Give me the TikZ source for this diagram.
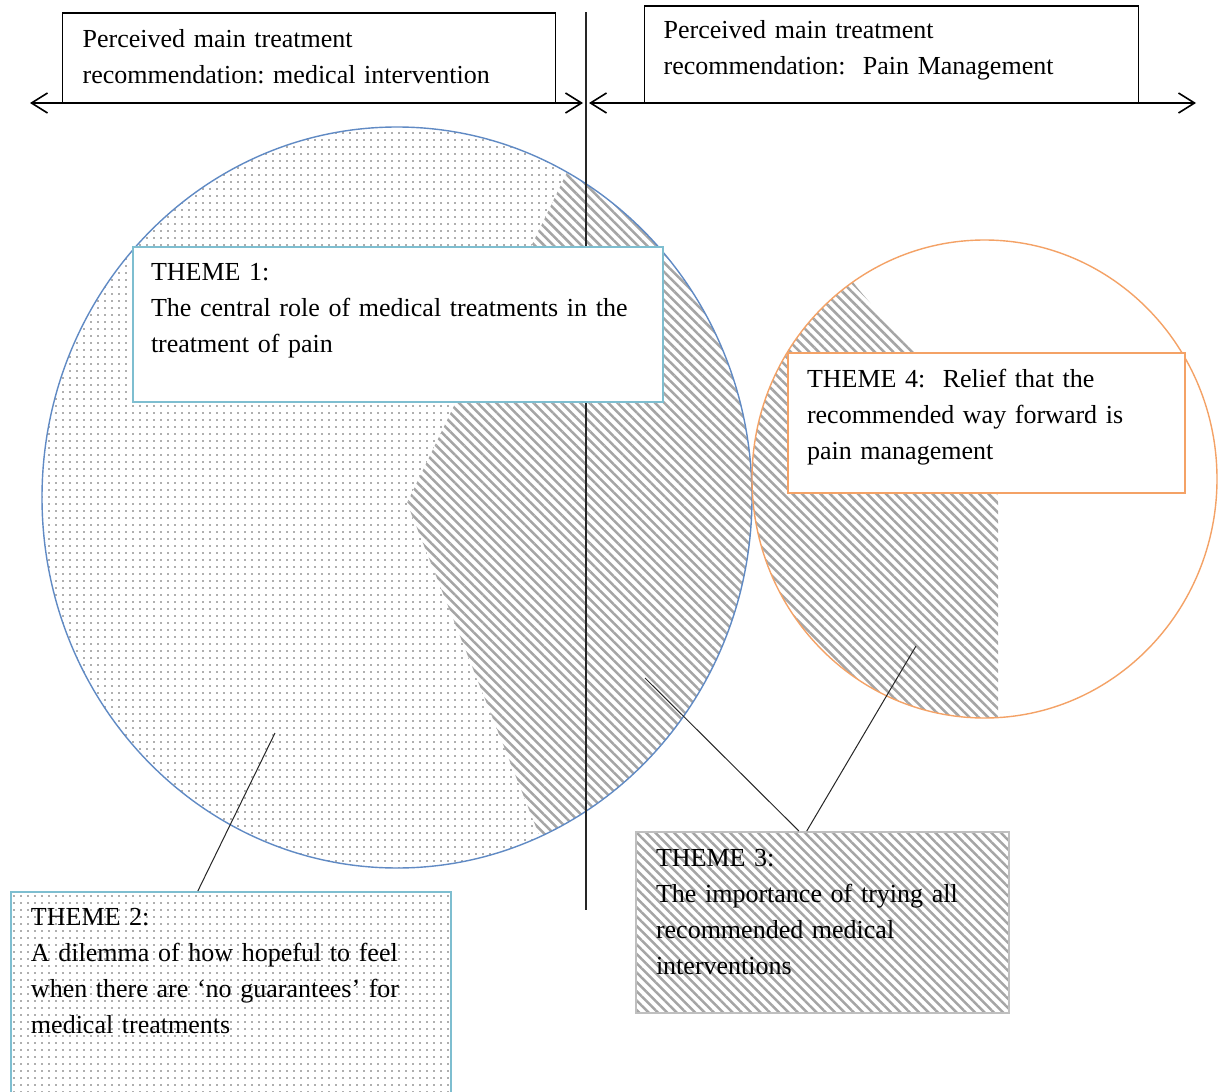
\documentclass[tikz,border=0pt]{standalone}
\usepackage{fontspec}
\setmainfont{Liberation Serif}
\usepackage{xcolor}
\usepackage{tikz}
\usetikzlibrary{arrows.meta,patterns.meta,calc}
\definecolor{thmblue}{RGB}{126,190,208}
\definecolor{circblue}{RGB}{96,138,196}
\definecolor{thmorange}{RGB}{244,162,102}
\definecolor{hatchgrey}{RGB}{165,165,165}
\definecolor{dotgrey}{RGB}{95,95,95}
\frenchspacing
\tikzset{
  tbox/.style   = {draw, align=left, anchor=base west, inner ysep=0pt,
                   font=\fontsize{13}{18}\selectfont, line width=0.6pt},
  recbox/.style = {tbox, fill=white, draw=black},
  thmbox/.style = {tbox, line width=1pt},
  hatch/.style  = {pattern={Lines[angle=-45,distance=3.3pt,line width=1.25pt]},
                   pattern color=hatchgrey},
  dots/.style   = {pattern={Dots[distance=3.5pt,radius=0.45pt]},
                   pattern color=dotgrey},
  ar/.style     = {{Straight Barb[length=8pt,width=10pt]}-{Straight Barb[length=8pt,width=10pt]},
                   line width=0.8pt},
  lnk/.style    = {line width=0.5pt, black!85}
}

\begin{document}
\begin{tikzpicture}[x=0.5pt, y=-0.5pt]
\fill[white] (0,0) rectangle (1227,1092);
\useasboundingbox (0,0) rectangle (1227,1092);

% circles
\coordinate (bigc) at (397,497.5);
\coordinate (smallc) at (984.5,479);
\fill[dots] (bigc) ellipse [x radius=177.5pt, y radius=185.25pt];
\begin{scope}
  \clip (bigc) ellipse [x radius=177.5pt, y radius=185.25pt];
  \fill[white] (602,100) -- (407,503) -- (565,900) -- (800,900) -- (800,100) -- cycle;
  \fill[hatch] (602,100) -- (407,503) -- (565,900) -- (800,900) -- (800,100) -- cycle;
\end{scope}
\draw[circblue, line width=0.7pt] (bigc) ellipse [x radius=177.5pt, y radius=185.25pt];

\begin{scope}
  \clip (smallc) ellipse [x radius=116.25pt, y radius=119.5pt];
  \fill[hatch] (840,262) .. controls (870,320) and (990,400) .. (998,500)
    -- (998,740) -- (740,740) -- (740,250) -- cycle;
\end{scope}
\draw[thmorange, line width=0.7pt] (smallc) ellipse [x radius=116.25pt, y radius=119.5pt];

% divider
\coordinate (vtop) at (586,12);
\coordinate (vbot) at (586,910);
\draw[line width=0.8pt, black!85] (vtop) -- (vbot);

% recommendation boxes
\node[recbox, text width=226.5pt, inner xsep=10pt, text height=17pt, text depth=28pt]
  (recmed) at (62,47)
  {Perceived main treatment\\recommendation: medical intervention};
\node[recbox, text width=228pt, inner xsep=9.5pt, text height=16.5pt, text depth=32pt]
  (recpain) at (644,39)
  {Perceived main treatment\\recommendation:~ Pain Management};

\coordinate (lend) at (30,103);
\coordinate (lmid) at (583,103);
\coordinate (rmid) at (589,103);
\coordinate (rend) at (1196,103);
\draw[ar] (lend) -- (lmid);
\draw[ar] (rmid) -- (rend);

% themes
\node[thmbox, fill=white, draw=thmblue, text width=247pt, inner xsep=9pt,
      text height=16.5pt, text depth=61pt] (theme1) at (132,280)
  {THEME 1:\\The central role of medical treatments in the\\treatment of pain};
\node[thmbox, fill=white, draw=thmorange, text width=179.5pt, inner xsep=9.5pt,
      text height=17pt, text depth=53pt] (theme4) at (787,387)
  {THEME 4:~ Relief that the\\recommended way forward is\\pain management};
\node[thmbox, hatch, draw=black!25, text width=166.5pt, inner xsep=10pt,
      text height=17pt, text depth=73.5pt] (theme3) at (635,866)
  {THEME 3:\\The importance of trying all\\recommended medical\\interventions};
\node[thmbox, dots, draw=thmblue, text width=200pt, inner xsep=10pt,
      text height=16.5pt, text depth=87.5pt] (theme2) at (10,925)
  {THEME 2:\\A dilemma of how hopeful to feel\\when there are `no guarantees' for\\medical treatments};

% pointers
\coordinate (t2pt) at (275,733);
\coordinate (t3a) at (645,678);
\coordinate (t3b) at (916,646);
\draw[lnk] (t2pt) -- ($(theme2.north west)!0.425!(theme2.north east)$);
\draw[lnk] (t3a) -- ($(theme3.north west)!0.437!(theme3.north east)$);
\draw[lnk] (t3b) -- ($(theme3.north west)!0.458!(theme3.north east)$);
\end{tikzpicture}
\end{document}
